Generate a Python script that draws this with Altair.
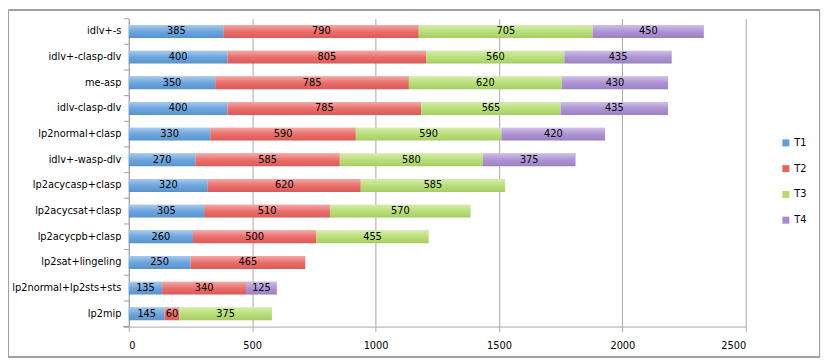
import altair as alt
import pandas as pd

solvers = ["idlv+-s", "idlv+-clasp-dlv", "me-asp", "idlv-clasp-dlv", "lp2normal+clasp",
           "idlv+-wasp-dlv", "lp2acycasp+clasp", "lp2acycsat+clasp", "lp2acycpb+clasp",
           "lp2sat+lingeling", "lp2normal+lp2sts+sts", "lp2mip"]
T1 = [385, 400, 350, 400, 330, 270, 320, 305, 260, 250, 135, 145]
T2 = [790, 805, 785, 785, 590, 585, 620, 510, 500, 465, 340, 60]
T3 = [705, 560, 620, 565, 590, 580, 585, 570, 455, 0, 0, 375]
T4 = [450, 435, 430, 435, 420, 375, 0, 0, 0, 0, 125, 0]
series = ["T1", "T2", "T3", "T4"]
colors = ["#5f9edb", "#e8625e", "#b3dc6c", "#a68bd0"]
x_ticks = [0, 500, 1000, 1500, 2000, 2500]

rows = []
for i, s in enumerate(solvers):
    for k, vals in enumerate([T1, T2, T3, T4]):
        if vals[i] > 0:
            rows.append({"solver": s, "series": series[k], "order": k, "value": vals[i]})
df = pd.DataFrame(rows)

FONT = "DejaVu Sans Condensed"

yscale = alt.Scale(domain=solvers, paddingInner=0, paddingOuter=0)
xscale = alt.Scale(domain=[0, 2500], nice=False)

base = alt.Chart(df).transform_stack(
    stack="value", groupby=["solver"], as_=["x0", "x1"],
    sort=[alt.SortField("order", order="ascending")]
).transform_calculate(mid="(datum.x0 + datum.x1) / 2")

bars = base.mark_bar(size=13).encode(
    y=alt.Y("solver:N", scale=yscale, sort=solvers,
            axis=alt.Axis(title=None, ticks=False, labelFontSize=11, labelFont=FONT,
                          labelColor="#000000", labelPadding=8, domainColor="#a0a0a0")),
    x=alt.X("x0:Q", scale=xscale,
            axis=alt.Axis(title=None, values=x_ticks, format="d", grid=True, gridColor="#a8a8a8",
                          domainColor="#a8a8a8", tickColor="#a8a8a8", tickSize=5,
                          labelFontSize=11, labelFont=FONT, labelColor="#000000",
                          labelPadding=8)),
    x2="x1:Q",
    color=alt.Color("series:N", scale=alt.Scale(domain=series, range=colors),
                    legend=alt.Legend(title=None, orient="none", legendX=658, legendY=120,
                                      symbolType="square", symbolSize=50, symbolStrokeWidth=0,
                                      labelFontSize=11, labelFont=FONT, labelColor="#000000",
                                      rowPadding=14, labelOffset=3)),
)

sheen = base.mark_bar(
    size=13,
    color=alt.Gradient(
        gradient="linear", x1=0, x2=0, y1=0, y2=1,
        stops=[alt.GradientStop(color="rgba(255,255,255,0.45)", offset=0),
               alt.GradientStop(color="rgba(255,255,255,0.05)", offset=0.55),
               alt.GradientStop(color="rgba(0,0,0,0.08)", offset=1)],
    ),
).encode(
    y=alt.Y("solver:N", scale=yscale, sort=solvers),
    x=alt.X("x0:Q", scale=xscale),
    x2="x1:Q",
)

labels = base.mark_text(fontSize=11, font=FONT, color="#000000").encode(
    y=alt.Y("solver:N", scale=yscale, sort=solvers),
    x=alt.X("mid:Q", scale=xscale),
    text="value:Q",
)

ticks_df = pd.DataFrame({"solver": solvers})
yticks = alt.Chart(ticks_df).mark_rule(color="#a0a0a0").encode(
    y=alt.Y("solver:N", scale=yscale, sort=solvers, bandPosition=0),
    x=alt.value(-5), x2=alt.value(0),
)
bottom_tick = alt.Chart(ticks_df).mark_rule(color="#a0a0a0").encode(
    y=alt.value(311), x=alt.value(-5), x2=alt.value(0),
)
frame = alt.Chart(ticks_df).mark_rect(fill=None, stroke="#a0a0a0", strokeWidth=1).encode(
    x=alt.value(-121.5), x2=alt.value(697.5), y=alt.value(-8.5), y2=alt.value(341.5),
)

chart = alt.layer(bars, sheen, labels, yticks, bottom_tick, frame).properties(
    width=623, height=311,
    autosize=alt.AutoSizeParams(type="none"),
    padding={"left": 122, "top": 9, "right": 77, "bottom": 34},
).configure_view(stroke=None)

chart.save("out.html", embed_options={"renderer": "svg", "actions": False})
